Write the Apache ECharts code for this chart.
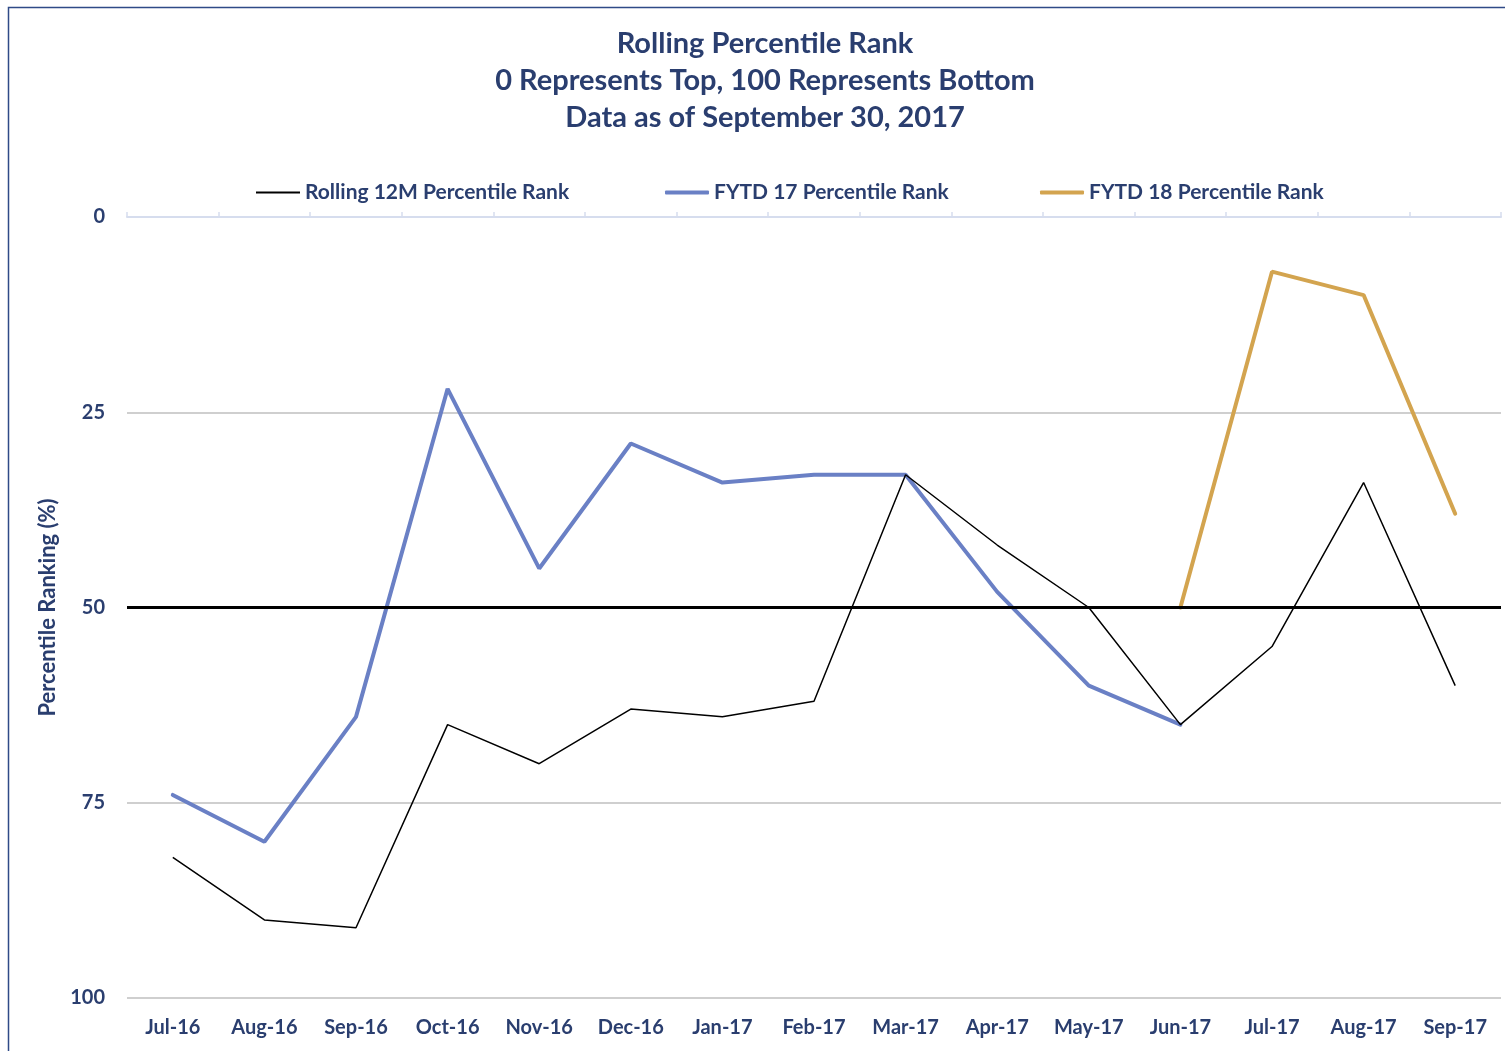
<!DOCTYPE html>
<html>
<head>
<meta charset="utf-8">
<script src="https://cdn.jsdelivr.net/npm/echarts@6/dist/echarts.min.js"></script>
<style>
  html, body { margin: 0; padding: 0; background: #ffffff; }
  #chart { width: 1505px; height: 1051px; }
</style>
</head>
<body>
<div id="chart"></div>
<script>
// Monthly categories
var months = ['Jul-16', 'Aug-16', 'Sep-16', 'Oct-16', 'Nov-16', 'Dec-16', 'Jan-17',
  'Feb-17', 'Mar-17', 'Apr-17', 'May-17', 'Jun-17', 'Jul-17', 'Aug-17', 'Sep-17'];

// Percentile ranks (0 = top, 100 = bottom)
var rolling12M = [82, 90, 91, 65, 70, 63, 64, 62, 33, 42, 50, 65, 55, 34, 60];
var fytd17 = [74, 80, 64, 22, 45, 29, 34, 33, 33, 48, 60, 65, null, null, null];
var fytd18 = [null, null, null, null, null, null, null, null, null, null, null, 50, 7, 10, 38];

// Y axis ticks and median reference
var yTicks = [0, 25, 50, 75, 100];
var medianRank = 50;

var navy = '#2A3E6F';
var font = 'Lato';

function legendItem(name, left, thickness, icon) {
  return {
    data: [name],
    top: 182,
    left: left,
    padding: 0,
    icon: icon,
    itemWidth: 44,
    itemHeight: thickness,
    textStyle: { color: navy, fontWeight: 'bold', fontSize: 21, fontFamily: font }
  };
}

var chart = echarts.init(document.getElementById('chart'));

chart.setOption({
  backgroundColor: '#ffffff',
  animation: false,
  textStyle: { fontFamily: font },
  title: {
    text: 'Rolling Percentile Rank\n0 Represents Top, 100 Represents Bottom\nData as of September 30, 2017',
    left: 765,
    top: 25,
    textAlign: 'center',
    padding: 0,
    textStyle: {
      color: navy,
      fontFamily: font,
      fontWeight: 'bold',
      fontSize: 29,
      lineHeight: 37
    }
  },
  legend: [
    legendItem('Rolling 12M Percentile Rank', 256, 2, 'rect'),
    legendItem('FYTD 17 Percentile Rank', 665, 4, 'roundRect'),
    legendItem('FYTD 18 Percentile Rank', 1040, 4, 'roundRect')
  ],
  grid: { left: 127, right: 4, top: 217, bottom: 53 },
  xAxis: [
    {
      type: 'category',
      data: months,
      position: 'bottom',
      boundaryGap: true,
      axisLine: { show: false },
      axisTick: { show: false },
      axisLabel: { color: navy, fontWeight: 'bold', fontSize: 20, margin: 20, interval: 0 }
    },
    {
      type: 'category',
      data: months,
      position: 'top',
      boundaryGap: true,
      axisLine: { show: true, lineStyle: { color: '#D6DDEE', width: 2 } },
      axisTick: { show: true, length: 5, lineStyle: { color: '#D6DDEE', width: 1.5 } },
      axisLabel: { show: false }
    }
  ],
  yAxis: {
    type: 'value',
    inverse: true,
    min: yTicks[0],
    max: yTicks[yTicks.length - 1],
    interval: 25,
    name: 'Percentile Ranking (%)',
    nameLocation: 'middle',
    nameGap: 61,
    nameRotate: 90,
    nameTextStyle: { color: navy, fontWeight: 'bold', fontSize: 22, fontFamily: font },
    axisLine: { show: false },
    axisTick: { show: false },
    axisLabel: { color: navy, fontWeight: 'bold', fontSize: 20, margin: 22 },
    splitLine: {
      show: true,
      lineStyle: { color: ['#D6DDEE', '#BFBFBF', '#BFBFBF', '#BFBFBF', '#BFBFBF'], width: 1.5 }
    }
  },
  series: [
    {
      name: 'Rolling 12M Percentile Rank',
      type: 'line',
      data: rolling12M,
      symbol: 'none',
      color: '#000000',
      lineStyle: { color: '#000000', width: 1.5 },
      z: 3,
      markLine: {
        silent: true,
        symbol: 'none',
        label: { show: false },
        lineStyle: { color: '#000000', width: 3, type: 'solid' },
        data: [{ yAxis: medianRank }]
      }
    },
    {
      name: 'FYTD 17 Percentile Rank',
      type: 'line',
      data: fytd17,
      symbol: 'none',
      color: '#6A80C5',
      lineStyle: { color: '#6A80C5', width: 4, cap: 'round' },
      z: 2
    },
    {
      name: 'FYTD 18 Percentile Rank',
      type: 'line',
      data: fytd18,
      symbol: 'none',
      color: '#D3A44F',
      lineStyle: { color: '#D3A44F', width: 4, cap: 'round' },
      z: 2
    }
  ],
  graphic: [
    {
      type: 'rect',
      shape: { x: 8.5, y: 7.5, width: 1600, height: 1200 },
      style: { fill: 'none', stroke: '#2F4A87', lineWidth: 1.5 },
      silent: true
    }
  ]
});
</script>
</body>
</html>
